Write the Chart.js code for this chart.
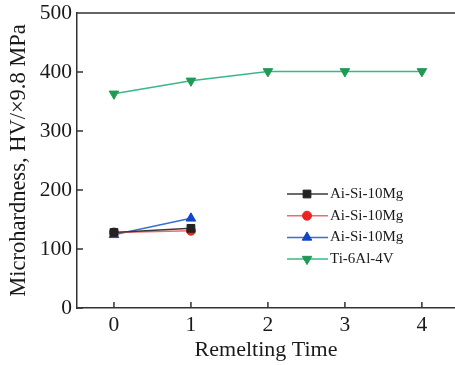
<!DOCTYPE html>
<html>
<head>
<meta charset="utf-8">
<script src="https://cdn.jsdelivr.net/npm/chart.js@4.4.1/dist/chart.umd.min.js"></script>
<style>
  html, body { margin: 0; padding: 0; background: #fff; }
  #wrap { width: 455px; height: 365px; }
</style>
</head>
<body>
<div id="wrap"><canvas id="c"></canvas></div>
<script>
// data
const remeltTimes = [0, 1, 2, 3, 4];
const xTicks = [0, 1, 2, 3, 4];
const yTicks = [0, 100, 200, 300, 400, 500];

const seriesNames = ['Ai-Si-10Mg', 'Ai-Si-10Mg', 'Ai-Si-10Mg', 'Ti-6Al-4V'];
const alBlack = [128, 135];
const alRed = [128, 131];
const alBlue = [124, 152];
const ti64 = [363, 385, 401, 401, 401];

const FONT = "'Liberation Serif', 'Times New Roman', serif";
const INK = '#1a1a1a';

function pts(vals) {
    return vals.map((v, i) => ({ x: remeltTimes[i], y: v }));
}

// ticks pointing inward + top frame line
const innerTicks = {
    id: 'innerTicks',
    afterDraw(chart) {
        const ctx = chart.ctx;
        const a = chart.chartArea;
        const xs = chart.scales.x, ys = chart.scales.y;
        ctx.save();
        ctx.strokeStyle = '#333';
        ctx.lineWidth = 1.5;
        ctx.beginPath();
        ys.ticks.forEach((t, i) => {
            const py = ys.getPixelForTick(i);
            ctx.moveTo(a.left, py);
            ctx.lineTo(a.left + 6, py);
        });
        xs.ticks.forEach((t, i) => {
            const px = xs.getPixelForTick(i);
            ctx.moveTo(px, a.bottom);
            ctx.lineTo(px, a.bottom - 6);
        });
        ctx.moveTo(a.left, a.top);
        ctx.lineTo(chart.width, a.top);
        ctx.stroke();
        ctx.restore();
    }
};

// legend inside the plot
const boxLegend = {
    id: 'boxLegend',
    afterDraw(chart) {
        const ctx = chart.ctx;
        const a = chart.chartArea;
        const x0 = a.left + 210;
        let y = a.top + 181;
        ctx.save();
        chart.data.datasets.forEach(ds => {
            ctx.strokeStyle = ds.borderColor;
            ctx.lineWidth = 1.5;
            ctx.beginPath();
            ctx.moveTo(x0, y);
            ctx.lineTo(x0 + 41, y);
            ctx.stroke();
            ctx.fillStyle = ds.pointBackgroundColor;
            ctx.strokeStyle = ds.pointBackgroundColor;
            ctx.lineWidth = 1;
            Chart.helpers.drawPoint(ctx, {
                pointStyle: ds.pointStyle,
                radius: ds.pointRadius,
                rotation: ds.pointRotation || 0,
                borderWidth: 1
            }, x0 + 20, y);
            ctx.fillStyle = INK;
            ctx.font = '15px ' + FONT;
            ctx.textBaseline = 'middle';
            ctx.fillText(ds.label, x0 + 43, y);
            y += 21.7;
        });
        ctx.restore();
    }
};

function line(label, vals, lineColor, markColor, style, radius, rot) {
    return {
        label: label,
        data: pts(vals),
        borderColor: lineColor,
        borderWidth: 1.5,
        pointStyle: style,
        pointRadius: radius,
        pointRotation: rot || 0,
        pointBackgroundColor: markColor,
        pointBorderColor: markColor,
        pointBorderWidth: 1,
        tension: 0
    };
}

const ctx = document.getElementById('c').getContext('2d');
new Chart(ctx, {
    type: 'line',
    data: {
        datasets: [
            line(seriesNames[0], alBlack, '#3a3a3a', '#222222', 'rect', 5.5),
            line(seriesNames[1], alRed, '#ef6b6b', '#ec2424', 'circle', 4.5),
            line(seriesNames[2], alBlue, '#3a6ed4', '#1444c8', 'triangle', 5.5),
            line(seriesNames[3], ti64, '#38b886', '#1f9a55', 'triangle', 5.5, 180)
        ]
    },
    options: {
        responsive: true,
        maintainAspectRatio: false,
        animation: false,
        layout: { autoPadding: false, padding: { top: 13, right: 0, left: 0, bottom: 0 } },
        plugins: {
            legend: { display: false },
            tooltip: { enabled: false }
        },
        scales: {
            x: {
                type: 'linear',
                min: -0.48,
                max: 4.43,
                afterBuildTicks: s => { s.ticks = xTicks.map(v => ({ value: v })); },
                afterFit: s => { s.height = 57; s.paddingLeft = 0; s.paddingRight = 0; },
                grid: { display: false, drawTicks: false },
                border: { display: true, color: '#333', width: 1.5 },
                ticks: {
                    padding: 4,
                    color: INK,
                    font: { family: FONT, size: 21.5 }
                },
                title: {
                    display: true,
                    text: 'Remelting Time',
                    color: INK,
                    font: { family: FONT, size: 22 },
                    padding: { top: 0, bottom: 2 }
                }
            },
            y: {
                min: 0,
                max: 500,
                afterBuildTicks: s => { s.ticks = yTicks.map(v => ({ value: v })); },
                afterFit: s => { s.width = 77; s.paddingTop = 0; s.paddingBottom = 0; },
                grid: { display: false, drawTicks: false },
                border: { display: true, color: '#333', width: 1.5 },
                ticks: {
                    padding: 5,
                    color: INK,
                    font: { family: FONT, size: 21.5 }
                },
                title: {
                    display: true,
                    text: 'Microhardness, HV/×9.8 MPa',
                    color: INK,
                    font: { family: FONT, size: 22.5 },
                    padding: { top: 6, bottom: 0 }
                }
            }
        }
    },
    plugins: [innerTicks, boxLegend]
});
</script>
</body>
</html>
